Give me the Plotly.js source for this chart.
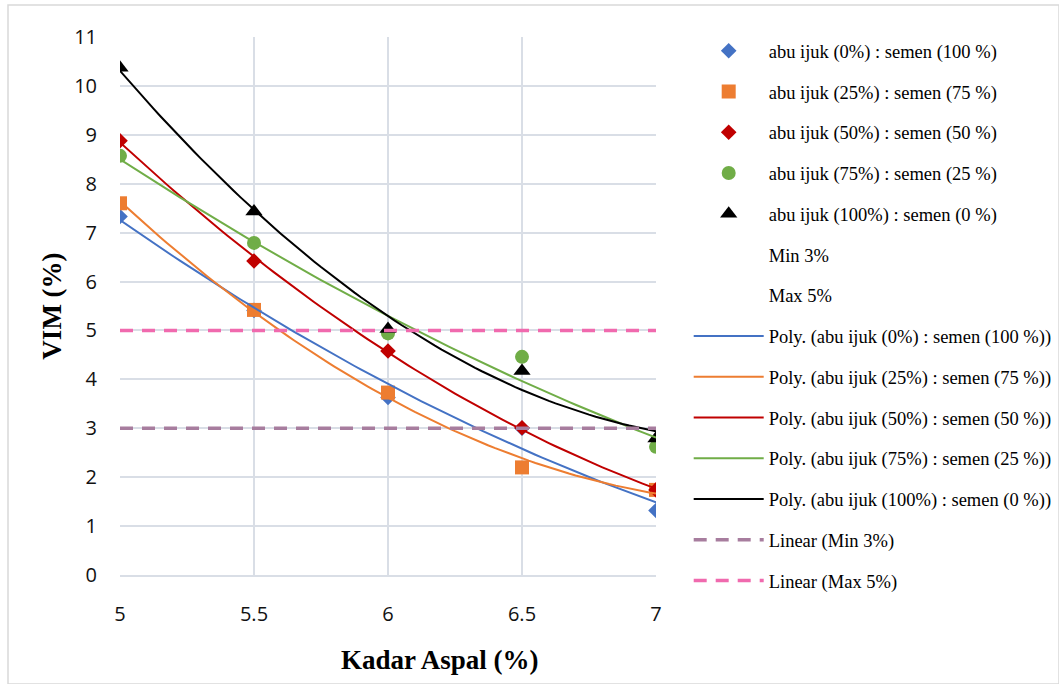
<!DOCTYPE html>
<html>
<head>
<meta charset="utf-8">
<script src="https://cdn.plot.ly/plotly-3.0.1.min.js"></script>
<style>html,body{margin:0;padding:0;background:#fff;}#chart{width:1059px;height:684px;}</style>
</head>
<body>
<div id="chart"></div>
<script>
// ---- data ----
const kadarAspal = [5, 5.5, 6, 6.5, 7];
const seriesNames = [
  "abu ijuk (0%) : semen (100 %)",
  "abu ijuk (25%) : semen (75 %)",
  "abu ijuk (50%) : semen (50 %)",
  "abu ijuk (75%) : semen (25 %)",
  "abu ijuk (100%) : semen (0 %)"
];
const vim0   = [7.33, 5.41, 3.63, 3.00, 1.32];
const vim25  = [7.60, 5.42, 3.73, 2.20, 1.74];
const vim50  = [8.88, 6.42, 4.58, 3.01, 1.74];
const vim75  = [8.57, 6.79, 4.94, 4.46, 2.62];
const vim100 = [10.37, 7.43, 5.03, 4.17, 2.79];
const minX = [5, 7];
const minY = [3, 3];
const maxX = [5, 7];
const maxY = [5, 5];
const xTicks = [5, 5.5, 6, 6.5, 7];
const yTicks = [0,1,2,3,4,5,6,7,8,9,10,11];

// ---- styles ----
const colors = ["#4472C4", "#ED7D31", "#C00000", "#70AD47", "#000000"];
const symbols = ["diamond", "square", "diamond", "circle", "triangle-up"];
const sizes = [12, 14, 12, 14, 15];
const allY = [vim0, vim25, vim50, vim75, vim100];

// least-squares quadratic fit (Excel "Poly." order 2 trendline)
function polyFit2(xs, ys) {
  let n = xs.length, s = [0,0,0,0,0], t = [0,0,0];
  for (let i = 0; i < n; i++) {
    let p = 1;
    for (let k = 0; k < 5; k++) { s[k] += p; if (k < 3) t[k] += p * ys[i]; p *= xs[i]; }
  }
  const A = [[s[0], s[1], s[2], t[0]], [s[1], s[2], s[3], t[1]], [s[2], s[3], s[4], t[2]]];
  for (let c = 0; c < 3; c++) {
    for (let r = c + 1; r < 3; r++) {
      const f = A[r][c] / A[c][c];
      for (let k = c; k < 4; k++) A[r][k] -= f * A[c][k];
    }
  }
  const b = [0,0,0];
  for (let r = 2; r >= 0; r--) {
    let v = A[r][3];
    for (let k = r + 1; k < 3; k++) v -= A[r][k] * b[k];
    b[r] = v / A[r][r];
  }
  return b;
}
function sampleFit(coef, x0, x1, n) {
  const xs = [], ys = [];
  for (let i = 0; i <= n; i++) {
    const x = x0 + (x1 - x0) * i / n;
    xs.push(x); ys.push(coef[0] + coef[1] * x + coef[2] * x * x);
  }
  return {xs, ys};
}

const traces = [];
for (let i = 0; i < 5; i++) {
  traces.push({
    x: kadarAspal, y: allY[i], name: seriesNames[i], type: "scatter", mode: "markers",
    marker: {symbol: symbols[i], color: colors[i], size: sizes[i], line: {width: 0}},
    legendgroup: "g" + i
  });
}
traces.push({x: minX, y: minY, name: "Min 3%", type: "scatter", mode: "markers",
  marker: {color: "rgba(0,0,0,0)", size: 8}, legendgroup: "g5"});
traces.push({x: maxX, y: maxY, name: "Max 5%", type: "scatter", mode: "markers",
  marker: {color: "rgba(0,0,0,0)", size: 8}, legendgroup: "g6"});
for (let i = 0; i < 5; i++) {
  const f = sampleFit(polyFit2(kadarAspal, allY[i]), 5, 7, 80);
  traces.push({
    x: f.xs, y: f.ys, name: "Poly. (" + seriesNames[i] + ")", type: "scatter", mode: "lines",
    line: {color: colors[i], width: 2}, legendgroup: "g" + (7 + i)
  });
}
traces.push({x: minX, y: minY, name: "Linear (Min 3%)", type: "scatter", mode: "lines",
  line: {color: "#A77D9E", width: 3.5, dash: "13px,9px"}, legendgroup: "g12"});
traces.push({x: maxX, y: maxY, name: "Linear (Max 5%)", type: "scatter", mode: "lines",
  line: {color: "#F06AAE", width: 3.5, dash: "13px,9px"}, legendgroup: "g13"});

const layout = {
  width: 1059, height: 684,
  margin: {l: 120, r: 403, t: 37, b: 109, autoexpand: false},
  paper_bgcolor: "#ffffff", plot_bgcolor: "#ffffff",
  showlegend: true,
  legend: {
    x: 1.061, xanchor: "left", y: 1.009, yanchor: "top",
    font: {family: "Liberation Serif, Times New Roman, serif", size: 18.5, color: "#000"},
    itemwidth: 70, tracegroupgap: 13.7, traceorder: "grouped",
    maxheight: 684,
    bgcolor: "rgba(0,0,0,0)"
  },
  xaxis: {
    range: [5, 7], tickvals: xTicks, ticktext: xTicks.map(String),
    showgrid: true, gridcolor: "#D9DEE6", gridwidth: 2,
    zeroline: false, showline: true, linecolor: "#D9DEE6", linewidth: 2,
    ticks: "", ticklabelstandoff: 20,
    tickfont: {family: "Open Sans, Liberation Sans, sans-serif", size: 20, color: "#111"}
  },
  yaxis: {
    range: [0, 11], tickvals: yTicks,
    showgrid: true, gridcolor: "#D9DEE6", gridwidth: 2,
    zeroline: false, showline: false,
    ticks: "", ticklabelstandoff: 22,
    tickfont: {family: "Open Sans, Liberation Sans, sans-serif", size: 20, color: "#111"},
    title: {text: "<b>VIM (%)</b>", standoff: 4,
      font: {family: "Liberation Serif, Times New Roman, serif", size: 27, color: "#000"}}
  },
  annotations: [{
    text: "<b>Kadar Aspal (%)</b>", xref: "paper", yref: "paper",
    x: (440 - 120) / 536, y: -(660 - 575) / 538, xanchor: "center", yanchor: "middle",
    showarrow: false,
    font: {family: "Liberation Serif, Times New Roman, serif", size: 27, color: "#000"}
  }],
  shapes: [{
    type: "rect", xref: "paper", yref: "paper",
    x0: (8 - 120) / 536, x1: (1059 - 120) / 536, y0: (575 - 684) / 538, y1: (575 - 5) / 538,
    line: {color: "#D9D9D9", width: 1.5}, layer: "below"
  }]
};

Plotly.newPlot("chart", traces, layout, {staticPlot: true, displayModeBar: false});
</script>
</body>
</html>
